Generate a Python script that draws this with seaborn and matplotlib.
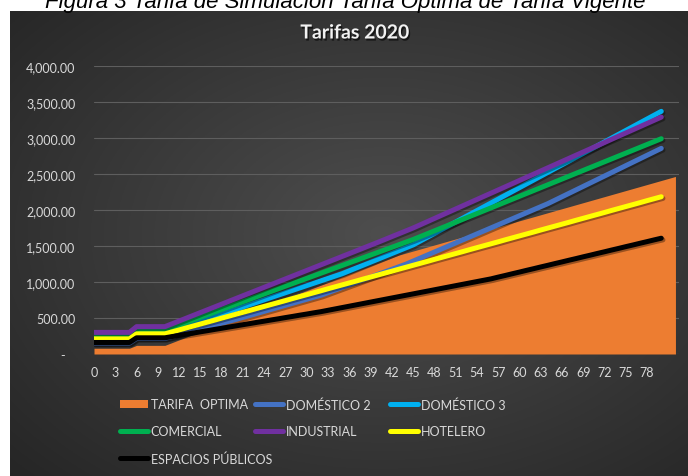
import numpy as np
import pandas as pd
import matplotlib
matplotlib.use("Agg")
import matplotlib.pyplot as plt
import matplotlib.patheffects as pe
from matplotlib.patches import Patch
import seaborn as sns

# ---------------- data ----------------
cat_area = list(range(0, 83))
cat_line = list(range(0, 81))

tarifa_optima = [80, 80, 80, 80, 80, 80, 120, 120, 120, 120, 120,
                 158, 196, 234, 272, 310, 348, 386, 424, 462, 500,
                 538, 576, 614, 652, 690, 728, 766, 804, 842, 880,
                 918, 956, 994, 1032, 1070, 1108, 1146, 1184, 1222, 1260,
                 1298, 1336, 1374, 1402, 1430, 1458, 1486, 1514, 1542, 1570,
                 1598, 1626, 1654, 1682, 1710, 1738, 1766, 1794, 1822, 1850,
                 1878, 1906, 1934, 1962, 1990, 2018, 2046, 2074, 2102, 2130,
                 2158, 2186, 2214, 2242, 2270, 2298, 2326, 2354, 2382, 2410,
                 2438, 2466]

domestico2 = [150, 150, 150, 150, 150, 150, 215, 215, 215, 215, 215,
              242, 268, 295, 321, 348, 374, 401, 427, 454, 480,
              508, 536, 564, 592, 620, 648, 676, 704, 732, 760,
              788, 816, 852, 888, 924, 960, 996, 1032, 1068, 1104,
              1140, 1176, 1212, 1248, 1290, 1332, 1374, 1416, 1458, 1500,
              1542, 1584, 1626, 1668, 1710, 1752, 1794, 1836, 1878, 1920,
              1962, 2004, 2046, 2088, 2136, 2184, 2232, 2280, 2328, 2376,
              2424, 2472, 2520, 2568, 2616, 2664, 2712, 2760, 2808, 2856]

domestico3 = [215, 215, 215, 215, 215, 215, 280, 280, 280, 280, 280,
              315, 350, 384, 418, 452, 486, 520, 554, 587, 620,
              653, 686, 719, 752, 785, 818, 851, 884, 917, 950,
              983, 1016, 1049, 1082, 1115, 1155, 1195, 1235, 1275, 1315,
              1355, 1395, 1435, 1475, 1515, 1568, 1621, 1674, 1727, 1780,
              1833, 1886, 1939, 1992, 2045, 2098, 2151, 2204, 2257, 2310,
              2363, 2416, 2469, 2522, 2575, 2628, 2681, 2734, 2787, 2840,
              2893, 2946, 2999, 3052, 3105, 3158, 3211, 3264, 3317, 3370]

comercial = [250, 250, 250, 250, 250, 250, 330, 330, 330, 330, 330,
             366, 402, 438, 474, 510, 546, 582, 618, 654, 690,
             726, 762, 798, 834, 870, 906, 942, 978, 1014, 1050,
             1086, 1122, 1158, 1194, 1230, 1266, 1302, 1338, 1374, 1410,
             1446, 1482, 1518, 1554, 1590, 1630, 1670, 1710, 1750, 1790,
             1830, 1870, 1910, 1950, 1990, 2030, 2070, 2110, 2150, 2190,
             2230, 2270, 2310, 2350, 2390, 2430, 2470, 2510, 2550, 2590,
             2630, 2670, 2710, 2750, 2790, 2830, 2870, 2910, 2950, 2990]

industrial = [300, 300, 300, 300, 300, 300, 380, 380, 380, 380, 380,
              419, 458, 497, 536, 575, 614, 653, 692, 731, 770,
              809, 848, 887, 926, 965, 1004, 1043, 1082, 1121, 1160,
              1199, 1238, 1277, 1316, 1355, 1394, 1433, 1472, 1511, 1550,
              1590, 1630, 1670, 1710, 1750, 1794, 1838, 1882, 1926, 1970,
              2014, 2058, 2102, 2146, 2190, 2234, 2278, 2322, 2366, 2410,
              2454, 2498, 2542, 2586, 2630, 2674, 2718, 2762, 2806, 2850,
              2894, 2938, 2982, 3026, 3070, 3114, 3158, 3202, 3246, 3290]

hotelero = [210, 210, 210, 210, 210, 210, 280, 280, 280, 280, 280,
            307, 334, 362, 389, 416, 443, 470, 498, 525, 552,
            579, 606, 634, 661, 688, 715, 742, 770, 797, 824,
            851, 878, 906, 933, 960, 987, 1014, 1042, 1069, 1096,
            1123, 1150, 1178, 1205, 1232, 1259, 1286, 1314, 1341, 1368,
            1395, 1422, 1450, 1477, 1504, 1531, 1558, 1586, 1613, 1640,
            1667, 1694, 1722, 1749, 1776, 1803, 1830, 1858, 1885, 1912,
            1939, 1966, 1994, 2021, 2048, 2075, 2102, 2130, 2157, 2184]

espacios_publicos = [160, 160, 160, 160, 160, 160, 225, 225, 225, 225, 225,
                     242, 258, 275, 291, 308, 324, 341, 357, 374, 390,
                     407, 423, 440, 456, 473, 489, 506, 522, 539, 555,
                     572, 588, 607, 626, 645, 664, 683, 702, 721, 740,
                     759, 778, 797, 816, 835, 854, 873, 892, 911, 930,
                     949, 968, 987, 1006, 1025, 1044, 1068, 1091, 1115, 1138,
                     1162, 1185, 1209, 1232, 1256, 1279, 1303, 1326, 1350, 1373,
                     1397, 1420, 1444, 1467, 1491, 1514, 1538, 1561, 1585, 1608]

line_names = ["DOMÉSTICO 2", "DOMÉSTICO 3", "COMERCIAL", "INDUSTRIAL",
              "HOTELERO", "ESPACIOS PÚBLICOS"]
line_values = [domestico2, domestico3, comercial, industrial, hotelero,
               espacios_publicos]
area_name = "TARIFA  OPTIMA"

x_ticks = list(range(0, 79, 3))
y_ticks = [0, 500, 1000, 1500, 2000, 2500, 3000, 3500, 4000]

# ---------------- styling ----------------
sns.set_theme(style="dark")
plt.rcParams["font.family"] = ["Lato", "DejaVu Sans"]

colors = {
    "TARIFA  OPTIMA": "#ED7D31",
    "DOMÉSTICO 2": "#4472C4",
    "DOMÉSTICO 3": "#00B0F0",
    "COMERCIAL": "#00B050",
    "INDUSTRIAL": "#7030A0",
    "HOTELERO": "#FFFF00",
    "ESPACIOS PÚBLICOS": "#000000",
}
txt_col = "#d9d9d9"

W, H = 688, 477
fig = plt.figure(figsize=(W / 100, H / 100), dpi=100)
fig.patch.set_facecolor("white")

# dark radial-gradient background panel
bg = fig.add_axes([10 / W, 0, (W - 10) / W, (H - 12) / H])
yy, xx = np.mgrid[0:1:300j, 0:1:400j]
r = np.sqrt(((xx - 0.55) / 0.75) ** 2 + ((yy - 0.52) / 0.75) ** 2)
r = np.clip(r, 0, 1)
c0 = np.array([0x4e, 0x4e, 0x4e]) / 255
c1 = np.array([0x26, 0x26, 0x26]) / 255
img = c0[None, None, :] * (1 - r[..., None]) + c1[None, None, :] * r[..., None]
bg.imshow(img, aspect="auto", extent=[0, 1, 0, 1], origin="lower")
bg.set_axis_off()

# caption at the very top, cut off by the image edge as in the original
fig.text(45 / W, 1 - 8 / H,
         "Figura 3 Tarifa de Simulación Tarifa Óptima de Tarifa Vigente",
         fontsize=16, style="italic", color="black", va="baseline", ha="left",
         family=["Liberation Sans", "DejaVu Sans"])

# main axes
left, right = 94 / W, 679 / W
bottom, top = 1 - 355 / H, 1 - 67 / H
ax = fig.add_axes([left, bottom, right - left, top - bottom])
ax.set_facecolor("none")
ax.patch.set_alpha(0)

# area series
ax.fill_between(cat_area, tarifa_optima, 0, color=colors[area_name],
                linewidth=0, label=area_name, zorder=2)

# line series via seaborn
df = pd.DataFrame({
    "x": cat_line * len(line_names),
    "valor": sum(line_values, []),
    "serie": sum([[n] * len(cat_line) for n in line_names], []),
})
sns.lineplot(data=df, x="x", y="valor", hue="serie", hue_order=line_names,
             palette=[colors[n] for n in line_names], linewidth=3.6, ax=ax,
             legend=True, zorder=3)
for ln in ax.get_lines():
    ln.set_solid_capstyle("round")
    ln.set_path_effects([pe.SimpleLineShadow(offset=(1.2, -1.2), alpha=0.35,
                                             shadow_color="black"),
                         pe.Normal()])

ax.set_xlim(0, 82.5)
ax.set_ylim(0, 4000)
ax.set_yticks(y_ticks)
ax.set_yticklabels(["-   "] + [f"{v:,.2f}" for v in y_ticks[1:]])
ax.set_xticks(x_ticks)
ax.set_xticklabels([str(v) for v in x_ticks])
ax.tick_params(axis="both", length=0, labelsize=9, colors=txt_col)
ax.tick_params(axis="y", pad=13.5)
ax.tick_params(axis="x", pad=9)
ax.set_xlabel("")
ax.set_ylabel("")
ax.grid(axis="y", color="#5e5e5e", linewidth=0.8, zorder=0)
ax.grid(axis="x", visible=False)
ax.set_axisbelow(True)
for s in ax.spines.values():
    s.set_visible(False)

# legend: three columns placed like the original
handles, labels = ax.get_legend_handles_labels()
hmap = dict(zip(labels, handles))
ax.get_legend().remove()
cols = [[area_name, "COMERCIAL", "ESPACIOS PÚBLICOS"],
        ["DOMÉSTICO 2", "INDUSTRIAL"],
        ["DOMÉSTICO 3", "HOTELERO"]]
col_x = [120, 255, 390]
for cx, names in zip(col_x, cols):
    hs = []
    for n in names:
        h = hmap.get(n)
        if n == area_name:
            h = Patch(facecolor=colors[n], edgecolor="none")
        hs.append(h)
    leg = fig.legend(hs, names, loc="upper left",
                     bbox_to_anchor=(cx / W, 1 - 399 / H),
                     frameon=False, fontsize=9, labelcolor=txt_col,
                     handlelength=2.2, handleheight=0.6, handletextpad=0.25,
                     labelspacing=1.2, borderpad=0, borderaxespad=0)
    for lh in leg.get_lines():
        lh.set_linewidth(3.6)
        lh.set_path_effects([])

# title
fig.text(355 / W, 1 - 34 / H, "Tarifas 2020", ha="center", va="center",
         fontsize=14, fontweight="bold", color="#f2f2f2",
         path_effects=[pe.withSimplePatchShadow(offset=(1, -1.5), alpha=0.6,
                                                shadow_rgbFace="black")])

fig.savefig("out.png", dpi=100)
